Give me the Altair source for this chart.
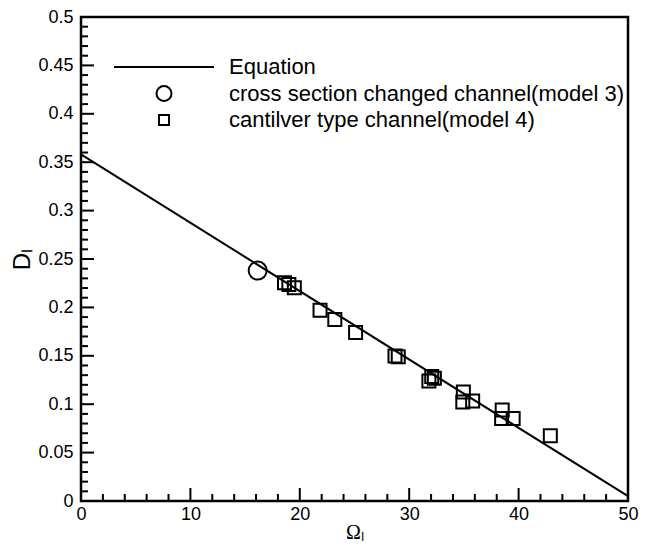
import altair as alt
import pandas as pd

# ---- data ----
series_names = ["Equation",
                "cross section changed channel(model 3)",
                "cantilver type channel(model 4)"]

eq_omega = [0, 50]
eq_d = [0.358, 0.005]

m3_omega = [16.15]
m3_d = [0.238]

m4_omega = [18.6, 19.0, 19.5, 21.85, 23.2, 25.1, 28.7, 29.0, 31.8, 32.06,
            32.3, 34.95, 34.9, 35.8, 38.5, 38.45, 39.5, 42.9]
m4_d = [0.2255, 0.2237, 0.2203, 0.197, 0.1876, 0.174, 0.1498, 0.149, 0.124,
        0.1285, 0.1268, 0.1127, 0.1024, 0.1034, 0.0941, 0.0852, 0.0852, 0.0673]

x_major = [0, 10, 20, 30, 40, 50]
x_minor = [2, 4, 6, 8, 12, 14, 16, 18, 22, 24, 26, 28, 32, 34, 36, 38, 42, 44, 46, 48]
y_major = [0, 0.05, 0.1, 0.15, 0.2, 0.25, 0.3, 0.35, 0.4, 0.45, 0.5]
y_minor = [round(0.01 * i, 2) for i in range(51) if i % 5 != 0]

tick_names = ["x major tick", "x minor tick", "y major tick", "y minor tick"]

W, H = 547, 484

df_eq = pd.DataFrame({"omega": eq_omega, "D": eq_d, "series": series_names[0]})
df_m3 = pd.DataFrame({"omega": m3_omega, "D": m3_d, "series": series_names[1]})
# model-4 squares plus the inward axis ticks, drawn by the same point mark
df_m4 = pd.concat([
    pd.DataFrame({"omega": m4_omega, "D": m4_d, "series": series_names[2]}),
    pd.DataFrame({"omega": x_major, "D": 0.0, "series": tick_names[0]}),
    pd.DataFrame({"omega": x_minor, "D": 0.0, "series": tick_names[1]}),
    pd.DataFrame({"omega": 0.0, "D": y_major, "series": tick_names[2]}),
    pd.DataFrame({"omega": 0.0, "D": y_minor, "series": tick_names[3]}),
], ignore_index=True)

x_scale = alt.Scale(domain=[0, 50], nice=False, zero=False)
y_scale = alt.Scale(domain=[0, 0.5], nice=False, zero=False)

x_axis = alt.Axis(values=x_major, format="d", grid=False, ticks=False, domain=False,
                  labelFont="Liberation Sans", labelFontSize=18, labelColor="black",
                  labelPadding=4, labelFlush=False,
                  title="Ωₗ", titleFont="Liberation Serif", titleFontSize=20,
                  titleFontWeight="normal", titleColor="black",
                  titleBaseline="alphabetic", titleY=37)
y_axis = alt.Axis(values=y_major, format="~g", grid=False, ticks=False, domain=False,
                  labelFont="Liberation Sans", labelFontSize=18, labelColor="black",
                  labelPadding=8, labelFlush=False,
                  title="Dₗ", titleFont="Liberation Sans", titleFontSize=24,
                  titleFontWeight="normal", titleColor="black", titlePadding=3)

X_ax = alt.X("omega:Q", scale=x_scale, axis=x_axis)
Y_ax = alt.Y("D:Q", scale=y_scale, axis=y_axis)
X = alt.X("omega:Q", scale=x_scale)
Y = alt.Y("D:Q", scale=y_scale)

line_path = "M-1,0L1,0"
circle_path = "M0.15,0A0.15,0.15,0,1,1,-0.15,0A0.15,0.15,0,1,1,0.15,0Z"
square_path = "M-0.1,-0.1H0.1V0.1H-0.1Z"
# tick paths for symbols of size 16900 (1 unit = 65 px): 13 px and 7 px long
x_major_path = "M0,0L0,-0.2"
x_minor_path = "M0,0L0,-0.108"
y_major_path = "M0,0L0.2,0"
y_minor_path = "M0,0L0.108,0"

shape_scale = alt.Scale(domain=series_names + tick_names,
                        range=[line_path, circle_path, square_path,
                               x_major_path, x_minor_path, y_major_path, y_minor_path])
legend = alt.Legend(title=None, orient="none", legendX=32, legendY=37, padding=0,
                    values=series_names,
                    symbolSize=10000, symbolStrokeWidth=2, symbolStrokeColor="black",
                    symbolFillColor="transparent", symbolOpacity=1,
                    labelFont="Liberation Sans", labelFontSize=22, labelColor="black",
                    labelOffset=14, rowPadding=0.5, clipHeight=26, labelLimit=500)

line = alt.Chart(df_eq).mark_line(color="black", strokeWidth=2).encode(x=X_ax, y=Y_ax)

pts_m3 = alt.Chart(df_m3).mark_point(filled=False, stroke="black", strokeWidth=2,
                                     opacity=1, size=14400).encode(
    x=X, y=Y, shape=alt.Shape("series:N", scale=shape_scale, legend=legend))
pts_m4 = alt.Chart(df_m4).mark_point(filled=False, stroke="black", strokeWidth=2,
                                     opacity=1, size=16900).encode(
    x=X, y=Y, shape=alt.Shape("series:N", scale=shape_scale, legend=legend))

chart = alt.layer(line, pts_m3, pts_m4).properties(
    width=W, height=H,
    autosize=alt.AutoSizeParams(type="none"),
    padding={"left": 73, "top": 9, "right": 14, "bottom": 42},
    background="white"
).configure_view(stroke="black", strokeWidth=2.5)

chart.save("out.html", embed_options={"renderer": "svg", "actions": False})
